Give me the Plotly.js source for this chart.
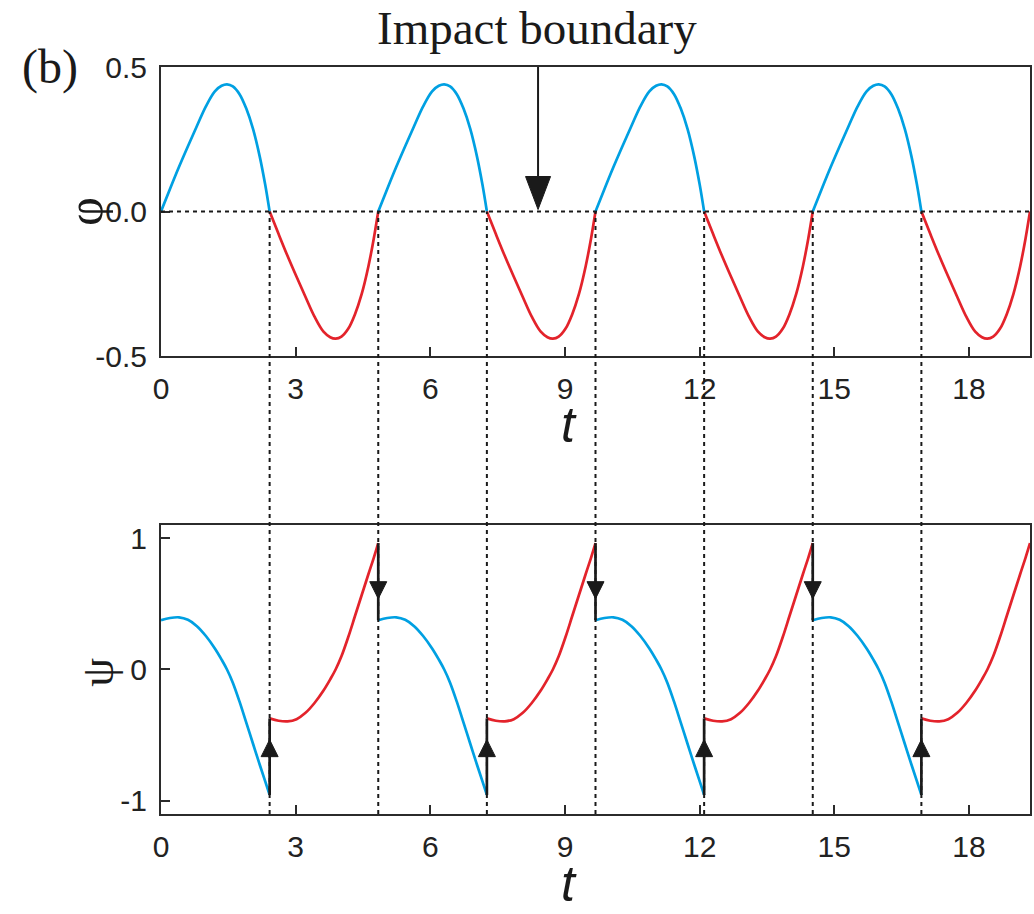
<!DOCTYPE html>
<html>
<head>
<meta charset="utf-8">
<script src="https://cdn.plot.ly/plotly-3.0.1.min.js"></script>
<style>
  html, body { margin: 0; padding: 0; background: #ffffff; }
  #chart { width: 1034px; height: 914px; }
</style>
</head>
<body>
<div id="chart"></div>
<script>
// Impact instants: each half-period ends when φ comes back to the boundary φ = 0
const impactTimes = [0, 2.42, 4.84, 7.26, 9.68, 12.10, 14.52, 16.94, 19.36];

// Time elapsed since the last impact, over one half-period
const tHalf   = [0, 0.2, 0.4, 0.6, 0.8, 1.0, 1.2, 1.35, 1.47, 1.6, 1.75, 1.9, 2.05, 2.2, 2.32, 2.42];

// Half-periods spent on the φ ≥ 0 side
const phiUp   = [0, 0.078, 0.154, 0.226, 0.296, 0.364, 0.416, 0.435, 0.44, 0.433, 0.406, 0.356, 0.286, 0.19, 0.094, 0];
const psiUp   = [0.375, 0.392, 0.397, 0.378, 0.33, 0.255, 0.16, 0.075, 0, -0.1, -0.245, -0.405, -0.565, -0.725, -0.85, -0.955];

// Half-periods spent on the φ ≤ 0 side
const phiDown = [0, -0.078, -0.154, -0.226, -0.296, -0.364, -0.416, -0.435, -0.44, -0.433, -0.406, -0.356, -0.286, -0.19, -0.094, 0];
const psiDown = [-0.372, -0.39, -0.395, -0.378, -0.33, -0.255, -0.16, -0.075, 0, 0.1, 0.245, 0.405, 0.565, 0.725, 0.85, 0.962];

// Tick labels
const tTickVals   = [0, 3, 6, 9, 12, 15, 18];
const tTickText   = ['0', '3', '6', '9', '12', '15', '18'];
const phiTickVals = [-0.5, 0, 0.5];
const phiTickText = ['-0.5', '0.0', '0.5'];
const psiTickVals = [-1, 0, 1];
const psiTickText = ['-1', '0', '1'];

const BLUE = '#00a0e2';
const RED = '#e3232b';
const INK = '#1a1a1a';
const AXIS = '#2b2b2b';
const SANS = 'Liberation Sans, Arial, sans-serif';
const SERIF = 'Liberation Serif, Times New Roman, serif';

const topDomain = [0.6131, 1];
const botDomain = [0, 0.3869];
const phiRange = [-0.5, 0.5];
const psiRange = [-1.1, 1.1];
const tEnd = impactTimes[impactTimes.length - 1];

const traces = [];
for (let k = 0; k < impactTimes.length - 1; k++) {
  const up = k % 2 === 0;
  const t = tHalf.map(s => impactTimes[k] + s);
  const col = up ? BLUE : RED;
  traces.push({
    x: t, y: up ? phiUp : phiDown, xaxis: 'x', yaxis: 'y',
    type: 'scatter', mode: 'lines', hoverinfo: 'skip',
    line: { color: col, width: 2.7, shape: 'spline', smoothing: 1 }
  });
  traces.push({
    x: t, y: up ? psiUp : psiDown, xaxis: 'x2', yaxis: 'y2',
    type: 'scatter', mode: 'lines', hoverinfo: 'skip',
    line: { color: col, width: 2.7, shape: 'spline', smoothing: 1 }
  });
}

// ψ jumps at every impact (vertical black segments with arrowheads)
const shapes = [];
for (let k = 1; k < impactTimes.length - 1; k++) {
  const before = (k % 2 === 1) ? psiUp : psiDown;
  const after = (k % 2 === 1) ? psiDown : psiUp;
  const y0 = before[before.length - 1];
  const y1 = after[0];
  traces.push({
    x: [impactTimes[k], impactTimes[k]], y: [y0, y1], xaxis: 'x2', yaxis: 'y2',
    type: 'scatter', mode: 'lines', hoverinfo: 'skip',
    line: { color: INK, width: 2.7 }
  });
  const goesUp = y1 > y0;
  shapes.push({
    type: 'path', xref: 'x2', yref: 'y2',
    xsizemode: 'pixel', ysizemode: 'pixel',
    xanchor: impactTimes[k], yanchor: (y0 + y1) / 2,
    path: goesUp ? 'M-8.5,0 L8.5,0 L0,17 Z' : 'M-8.5,0 L8.5,0 L0,-17 Z',
    fillcolor: INK, line: { color: INK, width: 1 }, layer: 'above'
  });
}

// Dotted guides: boundary φ = 0 and the impact instants carried down to ψ
const zeroPaper = topDomain[0] + (0 - phiRange[0]) / (phiRange[1] - phiRange[0]) * (topDomain[1] - topDomain[0]);
shapes.push({
  type: 'line', xref: 'x', yref: 'y', x0: 0, x1: tEnd, y0: 0, y1: 0,
  line: { color: INK, width: 2, dash: '4px,4px' }, layer: 'above'
});
for (let k = 1; k < impactTimes.length - 1; k++) {
  shapes.push({
    type: 'line', xref: 'x', yref: 'paper', x0: impactTimes[k], x1: impactTimes[k],
    y0: 0, y1: zeroPaper,
    line: { color: INK, width: 2, dash: '4px,4px' }, layer: 'above'
  });
}

// Pointer to the impact boundary
const pointerT = 8.4;
shapes.push({
  type: 'line', xref: 'x', yref: 'y', ysizemode: 'pixel', yanchor: 0,
  x0: pointerT, x1: pointerT, y0: 32, y1: 170,
  line: { color: INK, width: 2 }, layer: 'above'
});
shapes.push({
  type: 'path', xref: 'x', yref: 'y', xsizemode: 'pixel', ysizemode: 'pixel',
  xanchor: pointerT, yanchor: 0,
  path: 'M0,2 L-12.5,35 L12.5,35 Z',
  fillcolor: INK, line: { color: INK, width: 1 }, layer: 'above'
});

const axisCommon = {
  showline: true, mirror: true, linecolor: AXIS, linewidth: 2,
  ticks: 'inside', ticklen: 9, tickwidth: 2, tickcolor: AXIS,
  showgrid: false, zeroline: false,
  tickfont: { family: SANS, size: 30, color: '#222222' }
};

const annotations = [
  { text: 'Impact boundary', xref: 'x', yref: 'paper', x: pointerT - 0.03, y: 1 + 67 / 747,
    xanchor: 'center', yanchor: 'top', showarrow: false,
    font: { family: SERIF, size: 47, color: INK } },
  { text: '(b)', xref: 'paper', yref: 'paper', x: -0.128, y: 1.0,
    xanchor: 'center', yanchor: 'middle', showarrow: false,
    font: { family: SERIF, size: 48, color: INK } },
  { text: 'φ', xref: 'paper', yref: 'y', x: -0.088, y: 0, textangle: -90,
    xanchor: 'center', yanchor: 'middle', showarrow: false,
    font: { family: SERIF, size: 50, color: INK } },
  { text: 'ψ', xref: 'paper', yref: 'y2', x: -0.073, y: -0.02, textangle: -90,
    xanchor: 'center', yanchor: 'middle', showarrow: false,
    font: { family: SERIF, size: 46, color: INK } },
  { text: '<i>t</i>', xref: 'x', yref: 'paper', x: 9.1, y: 0.48,
    xanchor: 'center', yanchor: 'bottom', showarrow: false,
    font: { family: SANS, size: 50, color: INK } },
  { text: '<i>t</i>', xref: 'x', yref: 'paper', x: 9.1, y: -100 / 747,
    xanchor: 'center', yanchor: 'bottom', showarrow: false,
    font: { family: SANS, size: 50, color: INK } }
];

const layout = {
  width: 1034, height: 914,
  margin: { l: 161, r: 4, t: 67, b: 100 },
  paper_bgcolor: '#ffffff', plot_bgcolor: '#ffffff',
  showlegend: false,
  xaxis: Object.assign({}, axisCommon, { domain: [0, 1], anchor: 'y', range: [0, tEnd],
    tickvals: tTickVals, ticktext: tTickText, ticklabelstandoff: 5 }),
  yaxis: Object.assign({}, axisCommon, { domain: topDomain, anchor: 'x', range: phiRange,
    tickvals: phiTickVals, ticktext: phiTickText, ticklabelstandoff: 6 }),
  xaxis2: Object.assign({}, axisCommon, { domain: [0, 1], anchor: 'y2', range: [0, tEnd],
    tickvals: tTickVals, ticktext: tTickText, ticklabelstandoff: 5 }),
  yaxis2: Object.assign({}, axisCommon, { domain: botDomain, anchor: 'x2', range: psiRange,
    tickvals: psiTickVals, ticktext: psiTickText, ticklabelstandoff: 6 }),
  shapes: shapes,
  annotations: annotations
};

Plotly.newPlot('chart', traces, layout, { displayModeBar: false, staticPlot: true });
</script>
</body>
</html>
